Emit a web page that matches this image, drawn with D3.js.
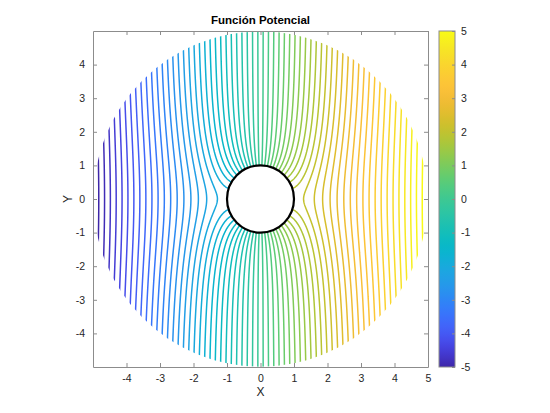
<!DOCTYPE html>
<html>
<head>
<meta charset="utf-8">
<script src="https://cdn.jsdelivr.net/npm/d3@7"></script>
<style>
  html, body { margin: 0; padding: 0; background: #fff; }
  svg { display: block; font-family: "Liberation Sans", Arial, Helvetica, sans-serif; }
</style>
</head>
<body>
<svg id="chart" width="550" height="413"></svg>
<script>
// ---------- data ----------
const titleText = "Función Potencial";
const xLabelText = "X";
const yLabelText = "Y";
const xTicks = [-4, -3, -2, -1, 0, 1, 2, 3, 4, 5];
const yTicks = [-4, -3, -2, -1, 0, 1, 2, 3, 4];
const cbTicks = [-5, -4, -3, -2, -1, 0, 1, 2, 3, 4, 5];
const xDomain = [-5, 5];
const yDomain = [-5, 5];
const colorLimits = [-5, 5];
const phiRange = [-5.2, 5.2];     // min / max of potential on the plotted disc
const levelCount = 62;            // number of contour levels
const cylinderRadius = 1;
const outerRadius = 5;
const U = 1;                      // free stream velocity
// parula colormap anchors
const parula = [
  [0.2422,0.1504,0.6603],[0.2783,0.2559,0.8991],[0.2699,0.3892,0.9906],
  [0.1963,0.4847,0.9892],[0.1540,0.5902,0.9218],[0.1113,0.6635,0.8763],
  [0.0036,0.7203,0.7917],[0.0964,0.7500,0.7120],[0.1938,0.7758,0.6251],
  [0.2906,0.7973,0.5188],[0.4456,0.8024,0.3909],[0.6174,0.7876,0.2612],
  [0.7738,0.7598,0.1646],[0.9035,0.7330,0.1774],[0.9956,0.7434,0.2371],
  [0.9892,0.8136,0.1885],[0.9610,0.8890,0.1537],[0.9769,0.9839,0.0805]
];

// contour levels (interior levels between min and max)
const levels = d3.range(1, levelCount + 1).map(k =>
  phiRange[0] + k * (phiRange[1] - phiRange[0]) / (levelCount + 1));

// ---------- scales ----------
const svg = d3.select("#chart");
const x = d3.scaleLinear().domain(xDomain).range([93, 428]);
const y = d3.scaleLinear().domain(yDomain).range([367, 31]);
const parulaInterp = d3.interpolateRgbBasis(parula.map(c => d3.rgb(c[0]*255, c[1]*255, c[2]*255)));
const color = d3.scaleSequential(parulaInterp).domain(colorLimits).clamp(true);
const fmt = d => String(d);

// ---------- potential field grid ----------
const n = 401;
const g0 = -5.1, step = 10.2 / (n - 1);
const values = new Float64Array(n * n);
for (let j = 0; j < n; j++) {
  const yy = g0 + j * step;
  for (let i = 0; i < n; i++) {
    const xx = g0 + i * step;
    const r2 = Math.max(xx*xx + yy*yy, 0.01);
    values[j * n + i] = U * xx * (1 + cylinderRadius * cylinderRadius / r2);
  }
}
const contours = d3.contours().size([n, n]).thresholds(levels)(values);

const proj = d3.geoTransform({
  point: function(px, py) {
    this.stream.point(x(g0 + (px - 0.5) * step), y(g0 + (py - 0.5) * step));
  }
});
const path = d3.geoPath(proj);

// clip to r <= outerRadius
const defs = svg.append("defs");
defs.append("clipPath").attr("id", "disc")
  .append("ellipse")
  .attr("cx", x(0)).attr("cy", y(0))
  .attr("rx", x(outerRadius * 0.998) - x(0))
  .attr("ry", y(0) - y(outerRadius * 0.998));

// axes box
const axisColor = "#8c8c8c";
svg.append("rect")
  .attr("x", x(xDomain[0])).attr("y", y(yDomain[1]))
  .attr("width", x(xDomain[1]) - x(xDomain[0]))
  .attr("height", y(yDomain[0]) - y(yDomain[1]))
  .attr("fill", "#fff").attr("stroke", "none");

svg.append("g").attr("clip-path", "url(#disc)")
  .selectAll("path").data(contours).join("path")
  .attr("d", path)
  .attr("fill", "none")
  .attr("stroke", d => color(d.value))
  .attr("stroke-width", 1.5)
  .attr("stroke-linejoin", "round");

// cylinder
svg.append("ellipse")
  .attr("cx", x(0)).attr("cy", y(0))
  .attr("rx", x(cylinderRadius) - x(0))
  .attr("ry", y(0) - y(cylinderRadius))
  .attr("fill", "#fff").attr("stroke", "#000").attr("stroke-width", 2.2);

// axes
const tickLen = 4;
function styleAxis(g) {
  g.select(".domain").attr("stroke", axisColor);
  g.selectAll(".tick line").attr("stroke", axisColor);
  g.selectAll(".tick text").attr("fill", "#262626").attr("font-size", 10.5);
}
svg.append("g").attr("transform", `translate(0,${y(yDomain[0])})`)
  .call(d3.axisBottom(x).tickValues(xTicks).tickFormat(fmt).tickSizeInner(-tickLen).tickSizeOuter(0).tickPadding(8))
  .call(styleAxis);
svg.append("g").attr("transform", `translate(0,${y(yDomain[1])})`)
  .call(d3.axisTop(x).tickValues(xTicks).tickFormat("").tickSizeInner(-tickLen).tickSizeOuter(0))
  .call(styleAxis);
svg.append("g").attr("transform", `translate(${x(xDomain[0])},0)`)
  .call(d3.axisLeft(y).tickValues(yTicks).tickFormat(fmt).tickSizeInner(-tickLen).tickSizeOuter(0).tickPadding(8))
  .call(styleAxis);
svg.append("g").attr("transform", `translate(${x(xDomain[1])},0)`)
  .call(d3.axisRight(y).tickValues(yTicks).tickFormat("").tickSizeInner(-tickLen).tickSizeOuter(0))
  .call(styleAxis);
svg.selectAll(".domain").attr("fill", "none");

// labels
svg.append("text").attr("x", x(0)).attr("y", 24)
  .attr("text-anchor", "middle").attr("font-size", 11.5).attr("font-weight", "bold")
  .attr("fill", "#000").text(titleText);
svg.append("text").attr("x", x(0)).attr("y", 396)
  .attr("text-anchor", "middle").attr("font-size", 12).attr("fill", "#262626").text(xLabelText);
svg.append("text").attr("transform", `translate(72,${y(0)}) rotate(-90)`)
  .attr("text-anchor", "middle").attr("font-size", 12).attr("fill", "#262626").text(yLabelText);

// colorbar
const cbX = 439, cbW = 16;
const cbScale = d3.scaleLinear().domain(colorLimits).range([367, 31]);
const grad = defs.append("linearGradient").attr("id", "cbgrad")
  .attr("x1", 0).attr("y1", 1).attr("x2", 0).attr("y2", 0);
d3.range(0, 1.0001, 0.02).forEach(t => {
  grad.append("stop").attr("offset", t)
    .attr("stop-color", color(colorLimits[0] + t * (colorLimits[1] - colorLimits[0])));
});
svg.append("rect").attr("x", cbX).attr("y", cbScale(colorLimits[1]))
  .attr("width", cbW).attr("height", cbScale(colorLimits[0]) - cbScale(colorLimits[1]))
  .attr("fill", "url(#cbgrad)").attr("stroke", axisColor).attr("stroke-width", 1);
svg.append("g").attr("transform", `translate(${cbX + cbW},0)`)
  .call(d3.axisRight(cbScale).tickValues(cbTicks).tickFormat(fmt).tickSizeInner(-3).tickSizeOuter(0).tickPadding(6))
  .call(styleAxis)
  .call(g => g.select(".domain").remove());
</script>
</body>
</html>
